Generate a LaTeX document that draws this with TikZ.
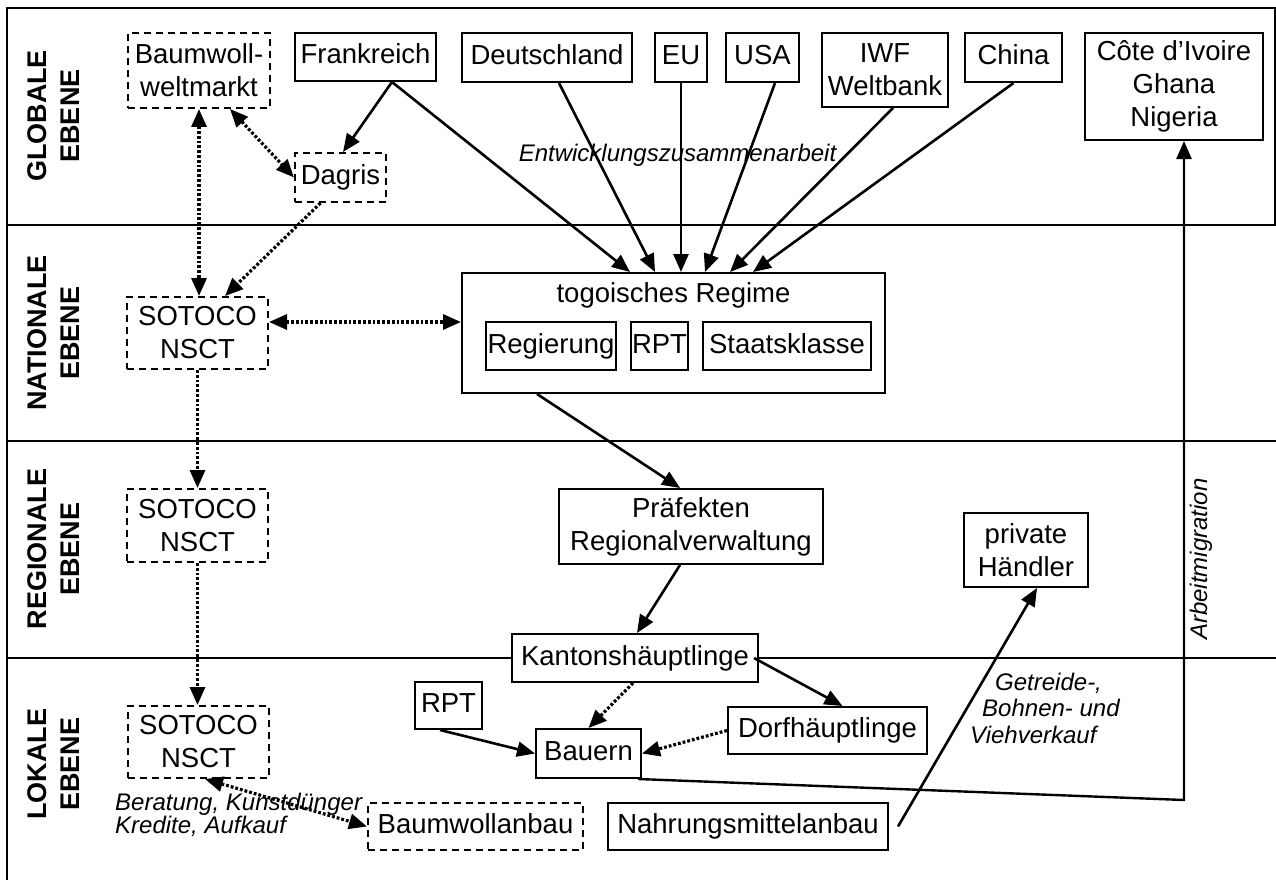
\documentclass[tikz,border=0pt]{standalone}
\usepackage{fontspec}
\setmainfont{Liberation Sans}
\usetikzlibrary{arrows.meta,calc}

\newcommand\boxfs{\fontsize{27.5}{33}\selectfont}
\newcommand\lvlfs{\fontsize{27}{33}\selectfont\bfseries}
\newcommand\labfs{\fontsize{24}{23}\selectfont\itshape}

\begin{document}
\begin{tikzpicture}[
  x=1pt, y=-1pt,
  >={Triangle[length=18pt,width=15pt]},
  sz/.style 2 args={minimum width=#1pt, minimum height=#2pt},
  box/.style={draw, line width=2pt, inner sep=0pt, font=\boxfs, align=center, fill=white},
  dbox/.style={box, dash pattern=on 7pt off 5pt},
  sline/.style={text height=20pt, text depth=6pt},
  arr/.style={line width=2.6pt, ->},
  darr/.style={line width=3.2pt, dash pattern=on 2.8pt off 2pt, ->},
  ddarr/.style={line width=3.2pt, dash pattern=on 2.8pt off 2pt, <->},
  sep/.style={line width=2.2pt},
  lvl/.style={font=\lvlfs, rotate=90, align=center, inner sep=0pt},
  lab/.style={font=\labfs, inner sep=0pt}
]
\fill[white] (0,0) rectangle (1276,880);
\useasboundingbox (0,0) rectangle (1276,880);

% frame and level separators
\draw[sep] (7,880) -- (7,8) -- (1275,8) -- (1275,225);
\draw[sep] (7,225) -- (1276,225);
\draw[sep] (7,441) -- (1276,441);
\draw[sep] (7,658) -- (1276,658);

% level titles
\node[lvl] (lglob) at (54,116) {GLOBALE\\EBENE};
\node[lvl] (lnat)  at (54,333) {NATIONALE\\EBENE};
\node[lvl] (lreg)  at (54,549) {REGIONALE\\EBENE};
\node[lvl] (llok)  at (54,764) {LOKALE\\EBENE};

% global level
\node[dbox, sz={142}{75}] (bw) at (199,70.5) {Baumwoll-\\weltmarkt};
\node[box, sline, sz={141}{48}] (fr) at (365.5,57) {Frankreich};
\node[box, sline, sz={170}{49}] (de) at (547,57.5) {Deutschland};
\node[box, sline, sz={52}{49}] (eu) at (681,57.5) {EU};
\node[box, sline, sz={73}{49}] (usa) at (762.5,57.5) {USA};
\node[box, sz={126}{74}] (iwf) at (885,70) {IWF\\Weltbank};
\node[box, sline, sz={97}{49}] (cn) at (1013.5,57.5) {China};
\node[box, sz={178}{107}] (ci) at (1174,86.5) {Côte d’Ivoire\\Ghana\\Nigeria};
\node[dbox, sline, sz={91}{49}] (dg) at (340.5,177.5) {Dagris};
\node[lab, anchor=base] (ewz) at (677.5,161) {Entwicklungszusammenarbeit};

% national level
\node[box, sz={423}{120}] (regbox) at (673.5,333) {};
\node[font=\boxfs, anchor=base, inner sep=0pt] (regtitle) at (673.5,302) {togoisches Regime};
\node[box, sline, sz={130}{48}] (rg) at (551,346) {Regierung};
\node[box, sline, sz={57}{48}] (rp1) at (659.5,346) {RPT};
\node[box, sline, sz={168}{48}] (sk) at (787,346) {Staatsklasse};
\node[dbox, sz={141}{72}] (so1) at (197.5,333) {SOTOCO\\NSCT};

% regional level
\node[dbox, sz={141}{73}] (so2) at (197.5,525.5) {SOTOCO\\NSCT};
\node[box, sz={264}{75}] (pf) at (691,526.5) {Präfekten\\Regionalverwaltung};
\node[box, sz={124}{74}] (ph) at (1026,550) {private\\Händler};

% local level
\node[dbox, sz={141}{72}] (so3) at (198.5,742) {SOTOCO\\NSCT};
\node[box, sline, sz={246}{48}] (kh) at (635,658) {Kantonshäuptlinge};
\node[box, sline, sz={67}{47}] (rp2) at (448.5,705.5) {RPT};
\node[box, sline, sz={105}{49}] (ba) at (588.5,753.5) {Bauern};
\node[box, sline, sz={199}{47}] (dh) at (827.5,730.5) {Dorfhäuptlinge};
\node[dbox, sline, sz={215}{47}] (bwa) at (475.5,826.5) {Baumwollanbau};
\node[box, sline, sz={280}{47}] (na) at (748,826.5) {Nahrungsmittelanbau};

\node[lab, align=left, anchor=north west] (ber) at (115,792.5) {Beratung, Kunstdünger\\Kredite, Aufkauf};
\node[lab, align=left, anchor=north west, font=\fontsize{24}{26.5}\selectfont\itshape] (gbv) at (970,672.5)
  {\hspace*{25pt}Getreide-,\\\hspace*{12pt}Bohnen- und\\Viehverkauf};
\node[lab, rotate=90] (arbm) at (1201,559) {Arbeitmigration};

% connectors: world market and cotton company
\draw[ddarr] (bw.south) -- (bw.south |- so1.north);
\draw[ddarr] ([xshift=31pt]bw.south) -- (dg.west);
\draw[darr] ([xshift=-20pt]dg.south) -- ([xshift=27.5pt]so1.north);
\draw[arr] ([xshift=26.5pt]fr.south) -- ([xshift=2.5pt]dg.north);

% development cooperation towards the regime
\draw[arr] ([xshift=26.5pt]fr.south) -- ([xshift=-43.5pt]regbox.north);
\draw[arr] ([xshift=12pt]de.south) -- ([xshift=-18.5pt]regbox.north);
\draw[arr] (eu.south) -- (eu.south |- regbox.north);
\draw[arr] ([xshift=12.5pt]usa.south) -- ([xshift=31.5pt]regbox.north);
\draw[arr] ([xshift=8pt]iwf.south) -- ([xshift=56.5pt]regbox.north);
\draw[arr] (cn.south) -- ([xshift=79.5pt]regbox.north);

% cotton company chain
\draw[ddarr] ([yshift=11pt]so1.east) -- ([yshift=11pt]so1.east -| regbox.west);
\draw[darr] (so1.south) -- (so2.north);
\draw[darr] (so2.south) -- (so2.south |- so3.north);
\draw[ddarr] ([xshift=6.5pt]so3.south) -- (bwa.west);

% administration chain
\draw[arr] ([xshift=-136.5pt]regbox.south) -- ([xshift=-11pt]pf.north);
\draw[arr] ([xshift=-11pt]pf.south) -- ([xshift=2pt]kh.north);
\draw[arr] ([xshift=-5pt]kh.east) -- ([xshift=15pt]dh.north);
\draw[darr] ([xshift=-2pt]kh.south) -- (ba.north);
\draw[darr] (dh.west) -- (ba.east);
\draw[arr] ([xshift=-8.5pt]rp2.south) -- (ba.west);

% trade and migration
\draw[arr] ([xshift=9pt]na.east) -- ([xshift=11pt]ph.south);
\coordinate (mig) at (1184,800);
\draw[line width=2.4pt, ->] ([xshift=-4pt]ba.south east) -- (mig) -- (mig |- ci.south);
\end{tikzpicture}
\end{document}
